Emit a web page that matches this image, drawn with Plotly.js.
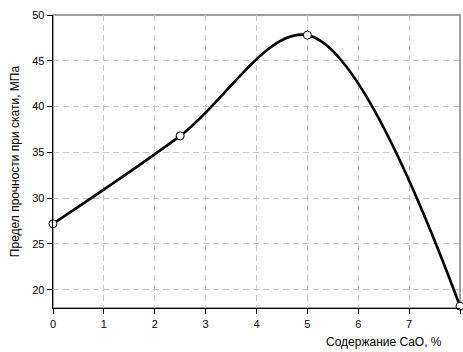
<!DOCTYPE html>
<html><head><meta charset="utf-8">
<script src="https://cdn.plot.ly/plotly-3.0.1.min.js"></script>
<style>body{margin:0;background:#fff}#c{width:463px;height:352px}</style>
</head><body><div id="c"></div>
<script>
const cao = [0, 2.5, 5, 8];
const strength = [27.2, 36.8, 47.8, 18.2];
const xTicks = [0,1,2,3,4,5,6,7,8];
const yTicks = [20,25,30,35,40,45,50];
const xTitle = 'Содержание CaO, %';
const yTitle = 'Предел прочности при скати, МПа';

const trace = {
  x: cao, y: strength, mode: 'lines+markers', type: 'scatter',
  line: {shape: 'spline', smoothing: 1, color: '#000', width: 2.6},
  marker: {size: 8, color: '#fff', line: {color: '#000', width: 1}},
  cliponaxis: false, hoverinfo: 'none'
};
const layout = {
  width: 463, height: 352,
  margin: {l: 53, r: 3, t: 15, b: 44},
  paper_bgcolor: '#fff', plot_bgcolor: '#fff',
  font: {family: 'Liberation Sans, Arial, sans-serif', size: 11, color: '#000'},
  showlegend: false,
  xaxis: {range: [0, 8], tickvals: xTicks, ticks: 'outside', ticklen: 5, tickcolor: '#000',
    showline: true, linecolor: '#000', linewidth: 1.3, zeroline: false,
    showgrid: true, gridcolor: '#c8c8c8', griddash: '6px,4px', gridwidth: 1,
    tickfont: {size: 11, color: '#000'}, fixedrange: true},
  yaxis: {range: [18, 50], tickvals: yTicks, ticks: 'outside', ticklen: 5, tickcolor: '#000',
    showline: true, linecolor: '#000', linewidth: 1.3, zeroline: false,
    showgrid: true, gridcolor: '#c8c8c8', griddash: '6px,4px', gridwidth: 1,
    tickfont: {size: 11, color: '#000'}, fixedrange: true,
    title: {text: yTitle, font: {size: 12, color: '#000'}, standoff: 10}},
  shapes: [{type: 'rect', xref: 'paper', yref: 'paper', x0: 0, x1: 1, y0: 0, y1: 1,
    line: {color: '#808080', width: 1.5}, layer: 'below'}],
  annotations: [{text: xTitle, xref: 'paper', yref: 'paper', x: 0.96, y: -0.115,
    xanchor: 'right', yanchor: 'middle', showarrow: false, font: {size: 12, color: '#000'}}]
};
Plotly.newPlot('c', [trace], layout, {displayModeBar: false, staticPlot: true});
</script></body></html>
